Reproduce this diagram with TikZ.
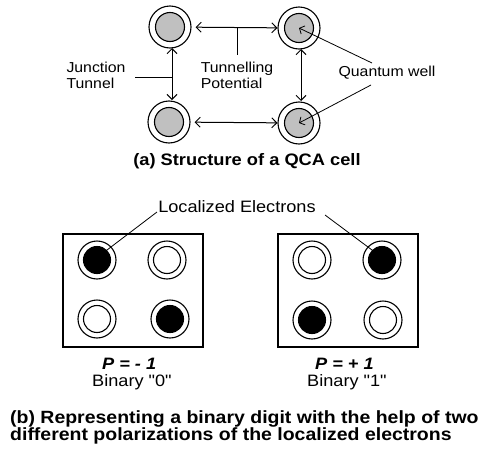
\documentclass[tikz,border=0pt]{standalone}
\usepackage{fontspec}
\setmainfont[FakeStretch=1.1,Ligatures=TeXOff]{Liberation Sans}
\usetikzlibrary{arrows.meta}
\definecolor{wellgray}{RGB}{192,192,192}
\begin{document}
\begin{tikzpicture}[x=1pt,y=-1pt,
  outerring/.style={circle,draw,line width=1.1pt,minimum size=42pt,inner sep=0pt},
  graywell/.style={circle,draw,line width=1.1pt,fill=wellgray,minimum size=29pt,inner sep=0pt},
  eouter/.style={circle,draw,line width=1.1pt,minimum size=38pt,inner sep=0pt},
  einner/.style={circle,draw,line width=1.1pt,fill=white,minimum size=27pt,inner sep=0pt},
  eblack/.style={circle,draw,line width=1.1pt,fill=black,minimum size=27pt,inner sep=0pt},
  lbl/.style={font=\fontsize{14.4}{16}\selectfont,align=left,inner sep=0pt},
  lblb/.style={font=\fontsize{16.5}{18}\selectfont,align=left,inner sep=0pt},
  pval/.style={font=\fontsize{16.5}{18}\selectfont\bfseries\itshape,inner sep=0pt},
  captext/.style={font=\fontsize{16.6}{18.5}\selectfont\bfseries,align=left,inner sep=0pt},
  captextb/.style={font=\fontsize{17.7}{18}\selectfont\bfseries,inner sep=0pt},
  dbl/.style={{Straight Barb[length=5pt,width=10pt]}-{Straight Barb[length=5pt,width=10pt]},line width=1pt},
  lead/.style={-{Straight Barb[length=4pt,width=9pt]},line width=0.8pt},
  thinline/.style={line width=1pt}]
\useasboundingbox (0,0) rectangle (485,450);
% (a) wells
\node[outerring] (w1) at (170,27) {};
\node[graywell] (g1) at (170,27) {};
\node[outerring] (w2) at (299,28) {};
\node[graywell] (g2) at (299,28) {};
\node[outerring] (w3) at (169,122) {};
\node[graywell] (g3) at (169,122) {};
\node[outerring] (w4) at (299,123) {};
\node[graywell] (g4) at (299,123) {};
\draw[dbl,shorten <=4pt] (w1) -- (w2);
\draw[dbl,shorten <=4pt] (w3) -- (w4);
\draw[dbl] (172,48) coordinate (l1) -- (172,100) coordinate (l2);
\draw[dbl] (301,49) coordinate (r1) -- (301,101) coordinate (r2);
\coordinate (tp1) at (237,28);
\coordinate (tp2) at (237,55);
\draw[thinline] (tp1) -- (tp2);
\coordinate (jt1) at (135,77);
\coordinate (jt2) at (172,77);
\draw[thinline] (jt1) -- (jt2);
\node[lbl] (jt) at (96,75) {Junction\\Tunnel};
\node[lbl] (tp) at (237,75) {Tunnelling\\Potential};
\node[lbl] (qw) at (387,73) {Quantum well};
\coordinate (q1) at (372,63);
\coordinate (q2) at (371,85);
\draw[lead] (q1) -- (g2.center);
\draw[lead] (q2) -- (g4.center);
\node[captext] (capa) at (247,161) {(a) Structure of a QCA cell};
% (b)
\node[lblb] (le) at (237,207) {Localized Electrons};
\node[draw,line width=1.1pt,minimum width=140pt,minimum height=113pt,inner sep=0pt] (bx1) at (133,290.5) {};
\node[draw,line width=1.1pt,minimum width=140pt,minimum height=113pt,inner sep=0pt] (bx2) at (348,290.5) {};
% left box electrons
\node[eouter] (a1) at (97,260) {}; \node[eblack] (a1i) at (97,260) {};
\node[eouter] (a2) at (167,260) {}; \node[einner] (a2i) at (167,260) {};
\node[eouter] (a3) at (97,319) {}; \node[einner] (a3i) at (97,319) {};
\node[eouter] (a4) at (170,319) {}; \node[eblack] (a4i) at (170,319) {};
% right box electrons
\node[eouter] (b1) at (312,260) {}; \node[einner] (b1i) at (312,260) {};
\node[eouter] (b2) at (382,260) {}; \node[eblack] (b2i) at (382,260) {};
\node[eouter] (b3) at (312,320) {}; \node[eblack] (b3i) at (312,320) {};
\node[eouter] (b4) at (383,320) {}; \node[einner] (b4i) at (383,320) {};
\coordinate (le1) at (157,212);
\coordinate (le2) at (325,215);
\draw[line width=0.8pt] (le1) -- (a1i.north east);
\draw[line width=0.8pt] (le2) -- (b2i.north west);
\node[pval,anchor=west] (p1) at (102,364) {P = - 1};
\node[lblb,anchor=west] (bin0) at (92,382) {Binary "0"};
\node[pval,anchor=west] (p2) at (315,364) {P = + 1};
\node[lblb,anchor=west] (bin1) at (307,382) {Binary "1"};
\node[captextb,anchor=base west] (capb1) at (10,423) {(b) Representing a binary digit with the help of two};
\node[captextb,anchor=base west] (capb2) at (10,440) {different polarizations of the localized electrons};
\end{tikzpicture}
\end{document}
